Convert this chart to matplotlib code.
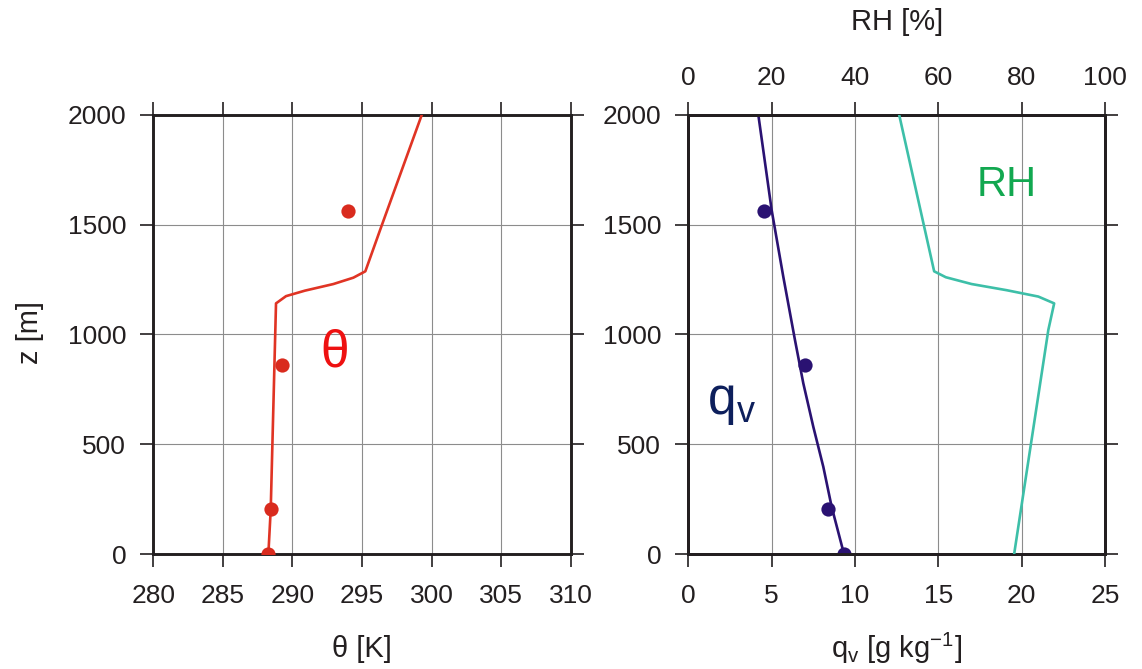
import matplotlib
matplotlib.use("Agg")
import matplotlib.pyplot as plt

plt.rcParams['font.family'] = ['Liberation Sans', 'DejaVu Sans']
plt.rcParams['mathtext.fontset'] = 'custom'
plt.rcParams['mathtext.rm'] = 'Liberation Sans'
plt.rcParams['mathtext.it'] = 'Liberation Sans'

# ---- data ----
theta_z = [0, 203, 1141, 1174, 1199, 1229, 1258, 1287, 1475, 2000]
theta_K = [288.27, 288.44, 288.82, 289.54, 290.9, 292.94, 294.38, 295.24, 296.3, 299.3]
theta_obs_z = [0, 203, 859, 1560]
theta_obs_K = [288.27, 288.44, 289.23, 293.97]

qv_z = [0, 215, 397, 579, 777, 974, 1262, 1566, 2000]
qv_gkg = [9.34, 8.6, 8.1, 7.5, 6.9, 6.4, 5.7, 5.0, 4.2]
qv_obs_z = [0, 207, 861, 1562]
qv_obs_gkg = [9.37, 8.40, 7.0, 4.54]

rh_z = [0, 1020, 1141, 1172, 1201, 1229, 1260, 1287, 2000]
rh_pct = [78.2, 86.4, 87.8, 84.0, 76.4, 68.0, 61.8, 59.0, 50.6]

z_ticks = [0, 500, 1000, 1500, 2000]
theta_ticks = [280, 285, 290, 295, 300, 305, 310]
qv_ticks = [0, 5, 10, 15, 20, 25]
rh_ticks = [0, 20, 40, 60, 80, 100]

RED = '#e03424'
RED_DOT = '#d92b1e'
NAVY = '#2a1272'
TEAL = '#3dbfa8'
INK = '#231f20'

fig = plt.figure(figsize=(11.42, 6.69), dpi=100)
W, H = 1142, 669
def rect(x0, x1, y0, y1):
    return [x0 / W, 1 - y1 / H, (x1 - x0) / W, (y1 - y0) / H]

ax1 = fig.add_axes(rect(153.3, 570.7, 114.7, 554))
ax2 = fig.add_axes(rect(688.3, 1105, 114.7, 554))

TICKFS = 19
LABFS = 21
LW = 1.9

def style_spines(ax):
    for s in ax.spines.values():
        s.set_linewidth(2.1)
        s.set_color(INK)

def style(ax, top=True):
    style_spines(ax)
    ax.grid(True, color='#8c8c8c', linewidth=0.8)
    ax.set_axisbelow(True)
    ax.tick_params(direction='out', length=9.5, width=1.2, color=INK,
                   labelsize=TICKFS, top=top, right=True, labelcolor=INK)
    ax.tick_params(axis='x', pad=12)
    ax.tick_params(axis='y', pad=10)
    ax.set_ylim(0, 2000)
    ax.set_yticks(z_ticks)

# left panel
style(ax1)
ax1.set_xlim(280, 310)
ax1.set_xticks(theta_ticks)
ax1.plot(theta_K, theta_z, color=RED, lw=LW, zorder=3)
ax1.scatter(theta_obs_K, theta_obs_z, s=105, color=RED_DOT, zorder=4, linewidths=0)
ax1.text(293.06, 915, 'θ', color='#ee1111', fontsize=37, ha='center', va='center')
ax1.set_xlabel('θ [K]', fontsize=LABFS, color=INK, va='center')
ax1.xaxis.set_label_coords(0.5, -0.216)
ax1.set_ylabel('z [m]', fontsize=LABFS, color=INK, va='center')
ax1.yaxis.set_label_coords(-0.2954, 0.505)

# right panel
style(ax2, top=False)
ax2.set_xlim(0, 25)
ax2.set_xticks(qv_ticks)
ax2.plot(qv_gkg, qv_z, color=NAVY, lw=LW, zorder=3)
ax2.scatter(qv_obs_gkg, qv_obs_z, s=105, color=NAVY, zorder=4, linewidths=0)
ax2.text(2.6, 690, r'q$_\mathregular{v}$', color='#0d1f5c', fontsize=37,
         ha='center', va='center')
ax2.text(19.1, 1680, 'RH', color='#12a850', fontsize=30, ha='center', va='center')
ax2.set_xlabel(r'q$_\mathregular{v}$ [g kg$^{-1}$]', fontsize=LABFS, color=INK, va='center')
ax2.xaxis.set_label_coords(0.5, -0.216)

ax3 = ax2.twiny()
ax3.set_xlim(0, 100)
ax3.set_xticks(rh_ticks)
ax3.plot(rh_pct, rh_z, color=TEAL, lw=LW, zorder=3)
ax3.tick_params(direction='out', length=9.5, width=1.2, color=INK,
                labelsize=TICKFS, pad=8, labelcolor=INK)
style_spines(ax3)
ax3.set_xlabel('RH [%]', fontsize=LABFS, color=INK, va='center')
ax3.xaxis.set_label_coords(0.5, 1.211)

fig.savefig('out.png', dpi=100)
